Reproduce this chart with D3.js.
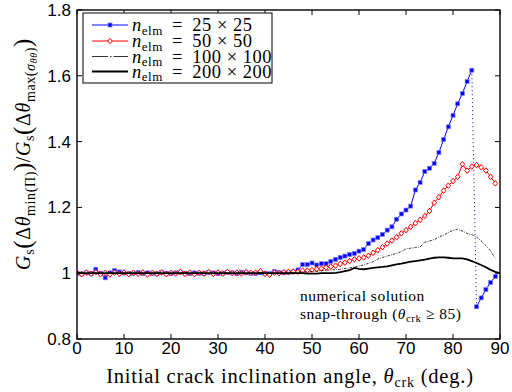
<!DOCTYPE html>
<html>
<head>
<meta charset="utf-8">
<script src="https://cdn.jsdelivr.net/npm/d3@7/dist/d3.min.js"></script>
<style>
  html, body { margin: 0; padding: 0; background: #fff; }
  svg { display: block; }
</style>
</head>
<body>
<svg id="chart" width="512" height="392"></svg>
<script>
// Crack inclination angle (deg.) per mesh size
const angles25 = d3.range(0, 85);
const angles25Tail = [85, 86, 87, 88, 89];
const angles50 = d3.range(0, 90);
const angles100 = d3.range(0, 90);
const angles200 = d3.range(0, 91);

// Energy release ratio G_s(min Pi) / G_s(max sigma_theta-theta)
const ratio25 = [
  1.000, 0.998, 1.001, 0.999, 1.012, 1.000, 0.986, 1.001, 1.008, 1.004,
  1.001, 0.999, 1.000, 1.002, 0.999, 1.001, 1.000, 0.998, 1.002, 1.000,
  0.999, 1.001, 1.003, 1.000, 0.999, 1.001, 1.000, 0.999, 1.002, 1.001,
  0.999, 1.000, 1.002, 1.001, 0.999, 1.003, 1.001, 1.000, 0.999, 1.001,
  1.000, 0.999, 1.005, 1.002, 1.001, 1.003, 1.004, 1.010, 1.026, 1.026,
  1.031, 1.025, 1.029, 1.029, 1.036, 1.042, 1.048, 1.052, 1.057, 1.060,
  1.067, 1.072, 1.090, 1.101, 1.108, 1.118, 1.131, 1.141, 1.164, 1.180,
  1.192, 1.204, 1.253, 1.276, 1.309, 1.319, 1.334, 1.367, 1.406, 1.445,
  1.480, 1.515, 1.546, 1.583, 1.617
];
const ratio25Tail = [0.898, 0.925, 0.950, 0.972, 0.990];

const ratio50 = [
  1.000, 0.997, 1.002, 0.998, 1.003, 0.997, 1.001, 0.996, 1.002, 0.998,
  1.002, 0.997, 1.001, 0.998, 1.002, 0.996, 1.001, 0.998, 1.002, 0.997,
  1.001, 0.999, 1.004, 0.998, 1.002, 0.997, 1.001, 0.999, 1.003, 0.998,
  1.002, 0.999, 1.004, 1.000, 1.002, 0.999, 1.003, 1.001, 1.002, 1.006,
  0.998, 0.995, 1.002, 1.000, 1.003, 1.003, 1.005, 1.004, 1.008, 1.008,
  1.010, 1.012, 1.014, 1.017, 1.020, 1.023, 1.028, 1.032, 1.037, 1.042,
  1.045, 1.048, 1.053, 1.062, 1.070, 1.079, 1.090, 1.099, 1.109, 1.121,
  1.131, 1.141, 1.152, 1.162, 1.174, 1.189, 1.214, 1.231, 1.251, 1.266,
  1.280, 1.293, 1.331, 1.312, 1.324, 1.329, 1.322, 1.312, 1.293, 1.273
];

const ratio100 = [
  1.000, 1.001, 0.999, 1.000, 1.001, 1.000, 0.999, 1.001, 1.000, 1.000,
  1.001, 0.999, 1.000, 1.001, 1.000, 0.999, 1.000, 1.001, 1.000, 0.999,
  1.000, 1.001, 1.000, 1.001, 0.999, 1.000, 1.001, 1.000, 0.999, 1.000,
  1.001, 1.000, 1.001, 0.999, 1.000, 1.001, 1.000, 1.002, 1.000, 1.001,
  1.000, 0.999, 1.001, 1.000, 1.002, 1.001, 1.002, 1.003, 1.004, 1.004,
  1.005, 1.006, 1.008, 1.009, 1.010, 1.011, 1.012, 1.014, 1.016, 1.019,
  1.022, 1.025, 1.030, 1.035, 1.043, 1.048, 1.052, 1.056, 1.060, 1.066,
  1.074, 1.076, 1.078, 1.080, 1.094, 1.098, 1.102, 1.110, 1.116, 1.124,
  1.130, 1.134, 1.128, 1.121, 1.117, 1.110, 1.098, 1.084, 1.068, 1.045
];

const ratio200 = [
  1.000, 1.000, 1.000, 1.000, 1.000, 1.000, 1.000, 1.000, 1.000, 1.000,
  1.000, 1.000, 1.000, 1.000, 1.000, 1.000, 1.000, 1.000, 1.000, 1.000,
  1.000, 1.000, 1.000, 1.000, 1.000, 1.000, 1.000, 1.000, 1.000, 1.000,
  1.000, 1.000, 1.000, 1.000, 1.000, 1.000, 1.000, 1.000, 1.000, 1.000,
  1.000, 1.000, 1.000, 1.000, 1.000, 1.000, 1.000, 1.000, 1.000, 0.999,
  0.999, 0.999, 1.000, 1.000, 1.000, 1.001, 1.003, 1.006, 1.009, 1.016,
  1.013, 1.012, 1.014, 1.016, 1.018, 1.019, 1.021, 1.024, 1.027, 1.029,
  1.032, 1.035, 1.037, 1.039, 1.041, 1.044, 1.047, 1.048, 1.048, 1.047,
  1.045, 1.045, 1.045, 1.042, 1.037, 1.031, 1.025, 1.018, 1.010, 1.004,
  1.000
];

const xTicks = [0, 10, 20, 30, 40, 50, 60, 70, 80, 90];
const yTicks = [0.8, 1.0, 1.2, 1.4, 1.6, 1.8];
const yTickLabels = ["0.8", "1", "1.2", "1.4", "1.6", "1.8"];
const meshLabels = ["25 \u00d7 25", "50 \u00d7 50", "100 \u00d7 100", "200 \u00d7 200"];

const SERIF = "'Liberation Serif', 'DejaVu Serif', serif";
const SANS = "'Liberation Sans', Arial, sans-serif";

const svg = d3.select("#chart");
const W = 512, H = 392;
const m = { left: 77, right: 12, top: 10, bottom: 53 };
const pw = W - m.left - m.right, ph = H - m.top - m.bottom;

const x = d3.scaleLinear().domain([0, 90]).range([m.left, m.left + pw]);
const y = d3.scaleLinear().domain([0.8, 1.8]).range([m.top + ph, m.top]);

svg.append("rect").attr("width", W).attr("height", H).attr("fill", "#fff");

const clipId = "plotclip";
svg.append("clipPath").attr("id", clipId)
  .append("rect").attr("x", m.left).attr("y", m.top).attr("width", pw).attr("height", ph);

const plot = svg.append("g").attr("clip-path", `url(#${clipId})`);
const line = d3.line().x(d => x(d[0])).y(d => y(d[1]));
const zip = (a, b) => a.map((v, i) => [v, b[i]]);

const d25 = zip(angles25, ratio25);
const d25t = zip(angles25Tail, ratio25Tail);
const d50 = zip(angles50, ratio50);
const d100 = zip(angles100, ratio100);
const d200 = zip(angles200, ratio200);

// 25 x 25 : blue solid line with filled squares, dotted jump at snap-through
plot.append("path").datum(d25).attr("d", line)
  .attr("fill", "none").attr("stroke", "#0000ff").attr("stroke-width", 1);
plot.append("path").datum([d25[d25.length - 1], d25t[0]]).attr("d", line)
  .attr("fill", "none").attr("stroke", "#0000ff").attr("stroke-width", 1)
  .attr("stroke-dasharray", "1,3");
plot.append("path").datum(d25t).attr("d", line)
  .attr("fill", "none").attr("stroke", "#0000ff").attr("stroke-width", 1);
function squares(data) {
  plot.append("g").selectAll("rect").data(data).join("rect")
    .attr("x", d => x(d[0]) - 2).attr("y", d => y(d[1]) - 2)
    .attr("width", 4).attr("height", 4)
    .attr("fill", "#0000ff").attr("stroke", "#7f7fff").attr("stroke-width", 0.7);
}
squares(d25);
squares(d25t);

// 50 x 50 : red line with open diamonds
plot.append("path").datum(d50).attr("d", line)
  .attr("fill", "none").attr("stroke", "#ff0000").attr("stroke-width", 1);
const diamond = (cx, cy) => `M${cx},${cy - 2.8}L${cx + 2.3},${cy}L${cx},${cy + 2.8}L${cx - 2.3},${cy}Z`;
plot.append("g").selectAll("path").data(d50).join("path")
  .attr("d", d => diamond(x(d[0]), y(d[1])))
  .attr("fill", "#fff").attr("stroke", "#ff0000").attr("stroke-width", 1);

// 100 x 100 : thin black dash-dot
plot.append("path").datum(d100).attr("d", line)
  .attr("fill", "none").attr("stroke", "#000").attr("stroke-width", 0.8)
  .attr("stroke-dasharray", "2.5,1.2,0.8,1.2");

// 200 x 200 : thick black solid
plot.append("path").datum(d200).attr("d", line)
  .attr("fill", "none").attr("stroke", "#000").attr("stroke-width", 1.8);

// Axes box and inward ticks on all sides
const axes = svg.append("g");
const tl = 5;
xTicks.forEach(t => {
  axes.append("line").attr("x1", x(t)).attr("x2", x(t)).attr("y1", m.top + ph).attr("y2", m.top + ph - tl)
    .attr("stroke", "#000").attr("stroke-width", 1);
  axes.append("line").attr("x1", x(t)).attr("x2", x(t)).attr("y1", m.top).attr("y2", m.top + tl)
    .attr("stroke", "#000").attr("stroke-width", 1);
  axes.append("text").attr("x", x(t)).attr("y", m.top + ph + 15)
    .attr("text-anchor", "middle").attr("font-family", SANS).attr("font-size", 17)
    .attr("fill", "#000").text(t);
});
yTicks.forEach((t, i) => {
  axes.append("line").attr("x1", m.left).attr("x2", m.left + tl).attr("y1", y(t)).attr("y2", y(t))
    .attr("stroke", "#000").attr("stroke-width", 1);
  axes.append("line").attr("x1", m.left + pw).attr("x2", m.left + pw - tl).attr("y1", y(t)).attr("y2", y(t))
    .attr("stroke", "#000").attr("stroke-width", 1);
  axes.append("text").attr("x", m.left - 6).attr("y", y(t) + 6)
    .attr("text-anchor", "end").attr("font-family", SANS).attr("font-size", 17)
    .attr("fill", "#000").text(yTickLabels[i]);
});
axes.append("rect").attr("x", m.left).attr("y", m.top).attr("width", pw).attr("height", ph)
  .attr("fill", "none").attr("stroke", "#000").attr("stroke-width", 1.4);

// Rich text helper: parts with text, italic flag, size and baseline offset
function rich(sel, parts, base) {
  let prev = 0;
  parts.forEach(p => {
    const sh = p.sh || 0;
    sel.append("tspan")
      .attr("dy", sh - prev)
      .attr("font-style", p.it ? "italic" : "normal")
      .attr("font-size", p.sz || base)
      .text(p.t);
    prev = sh;
  });
}

// X label
const xl = svg.append("text").attr("x", 290).attr("y", 383).attr("text-anchor", "middle")
  .attr("font-family", SERIF).attr("font-size", 20.5).attr("letter-spacing", 0.8).attr("fill", "#000");
rich(xl, [
  { t: "Initial crack inclination angle, " },
  { t: "\u03b8", it: true },
  { t: "crk", sz: 14, sh: 4 },
  { t: " (deg.)", sh: 0 }
], 20.5);

// Y label
const yl = svg.append("text").attr("transform", "translate(30,154) rotate(-90)")
  .attr("text-anchor", "middle").attr("font-family", SERIF).attr("font-size", 20)
  .attr("letter-spacing", 0.6).attr("fill", "#000");
rich(yl, [
  { t: "G", it: true },
  { t: "s", sz: 14, sh: 4 },
  { t: "(", sz: 25, sh: 1 },
  { t: "\u0394", sh: 0 },
  { t: "\u03b8", it: true },
  { t: "min(\u03a0)", sz: 14, sh: 5 },
  { t: ")", sz: 25, sh: 1 },
  { t: "/", sh: 0 },
  { t: "G", it: true },
  { t: "s", sz: 14, sh: 4 },
  { t: "(", sz: 25, sh: 1 },
  { t: "\u0394", sh: 0 },
  { t: "\u03b8", it: true },
  { t: "max(", sz: 14, sh: 5 },
  { t: "\u03c3", sz: 14, it: true, sh: 5 },
  { t: "\u03b8\u03b8", sz: 10, it: true, sh: 7 },
  { t: ")", sz: 14, sh: 5 },
  { t: ")", sz: 25, sh: 1 }
], 20);

// Annotation
const ann = svg.append("g").attr("font-family", SERIF).attr("font-size", 15.5)
  .attr("letter-spacing", 0.5).attr("fill", "#000");
ann.append("text").attr("x", 300).attr("y", 301).text("numerical solution");
const ann2 = ann.append("text").attr("x", 300).attr("y", 319);
rich(ann2, [
  { t: "snap-through (" },
  { t: "\u03b8", it: true },
  { t: "crk", sz: 11, sh: 3 },
  { t: " \u2265 85)", sh: 0 }
], 15.5);

// Legend
const lg = svg.append("g");
lg.append("rect").attr("x", 83).attr("y", 13).attr("width", 189).attr("height", 70)
  .attr("fill", "#fff").attr("stroke", "#000").attr("stroke-width", 1);
const rowsY = [25, 41, 56.5, 71.5];
const lx1 = 92, lx2 = 128, lmid = (lx1 + lx2) / 2;
// row 0
lg.append("line").attr("x1", lx1).attr("x2", lx2).attr("y1", rowsY[0]).attr("y2", rowsY[0])
  .attr("stroke", "#0000ff").attr("stroke-width", 1);
lg.append("rect").attr("x", lmid - 2).attr("y", rowsY[0] - 2).attr("width", 4).attr("height", 4)
  .attr("fill", "#0000ff").attr("stroke", "#7f7fff").attr("stroke-width", 0.7);
// row 1
lg.append("line").attr("x1", lx1).attr("x2", lx2).attr("y1", rowsY[1]).attr("y2", rowsY[1])
  .attr("stroke", "#ff0000").attr("stroke-width", 1);
lg.append("path").attr("d", diamond(lmid, rowsY[1]))
  .attr("fill", "#fff").attr("stroke", "#ff0000").attr("stroke-width", 1);
// row 2
lg.append("line").attr("x1", lx1).attr("x2", lx2).attr("y1", rowsY[2]).attr("y2", rowsY[2])
  .attr("stroke", "#000").attr("stroke-width", 0.8).attr("stroke-dasharray", "16,2,1.5,2");
// row 3
lg.append("line").attr("x1", lx1).attr("x2", lx2).attr("y1", rowsY[3]).attr("y2", rowsY[3])
  .attr("stroke", "#000").attr("stroke-width", 1.8);

meshLabels.forEach((lab, i) => {
  const t = lg.append("text").attr("x", 132).attr("y", rowsY[i] + 6)
    .attr("font-family", SERIF).attr("font-size", 18.5).attr("letter-spacing", 0.5).attr("fill", "#000");
  rich(t, [
    { t: "n", it: true },
    { t: "elm", sz: 13, sh: 3.5 },
    { t: " \u2009=\u2009 " + lab, sh: 0 }
  ], 18.5);
});
</script>
</body>
</html>
